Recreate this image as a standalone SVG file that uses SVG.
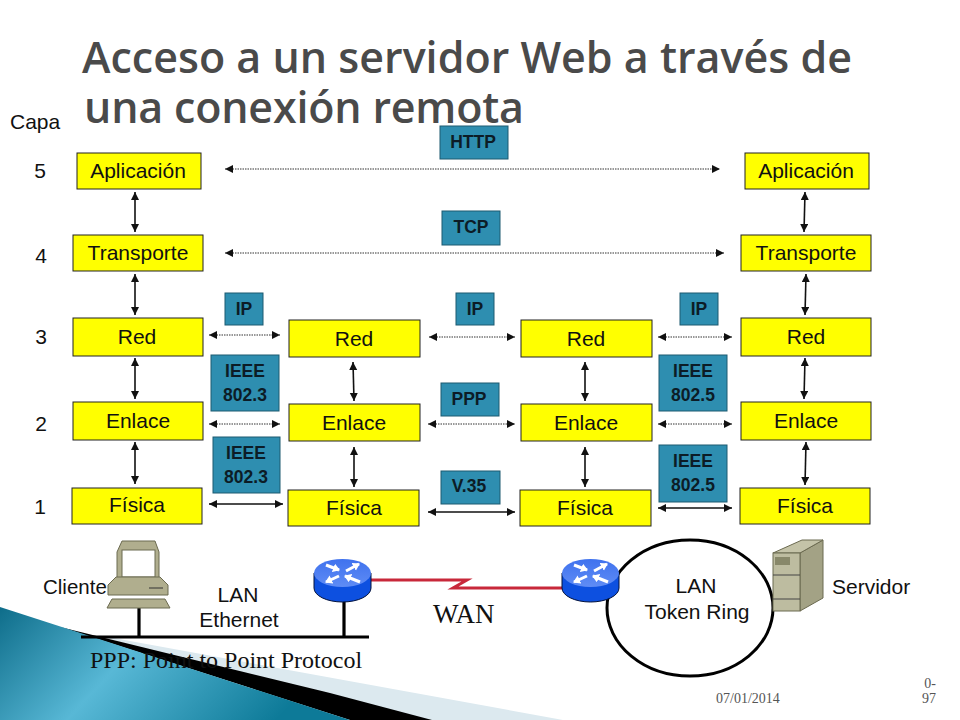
<svg xmlns="http://www.w3.org/2000/svg" width="960" height="720" viewBox="0 0 960 720">
<style>
text{font-family:"Liberation Sans",Arial,sans-serif;fill:#111}
.y{fill:#ffff00;stroke:#222;stroke-width:1}
.b{fill:#2e8eb0;stroke:#1c5a70;stroke-width:1}
.yt{font-size:21px;text-anchor:middle}
.bt{font-size:17.500px;font-weight:bold;text-anchor:middle;fill:#0c1c26}
.n{font-size:21px;text-anchor:middle}
.s{stroke:#111;stroke-width:1.600;fill:none;marker-start:url(#a);marker-end:url(#a)}
.d{stroke:#333;stroke-width:1;stroke-dasharray:1.500 1;fill:none;marker-start:url(#a);marker-end:url(#a)}
.t{font-family:"Open Sans","DejaVu Sans",sans-serif;font-size:43px;fill:#4a4a4a;font-weight:600}
.ser{font-family:"Liberation Serif",serif}
.bk{stroke:#000;stroke-width:3;fill:none}
.foot{font-size:14px;fill:#555}
</style>
<defs>
<marker id="a" orient="auto-start-reverse" markerUnits="userSpaceOnUse" markerWidth="9" markerHeight="9" refX="8" refY="4"><path d="M0 0L8 4L0 8Z" fill="#111"/></marker>
<marker id="w" orient="auto" markerUnits="userSpaceOnUse" markerWidth="10" markerHeight="10" refX="6" refY="4.500"><path d="M0 0L7 4.500L0 9Z" fill="#fff"/></marker>
<linearGradient id="teal" x1="0" y1="0" x2="1" y2="0.300"><stop offset="0" stop-color="#0e6d8a"/><stop offset=".45" stop-color="#58b8d6"/><stop offset="1" stop-color="#0d7a98"/></linearGradient>
<linearGradient id="rt" x1="0" y1="0" x2="0" y2="1"><stop offset="0" stop-color="#3f72ee"/><stop offset="1" stop-color="#5f8cf5"/></linearGradient>
<g id="router-shape">
<path d="M0 14V29A28.500 14 0 0 0 57 29V14Z" fill="#0d50e0" stroke="#04123a" stroke-width="1"/>
<ellipse cx="28.500" cy="14" rx="28.500" ry="14" fill="url(#rt)"/>
<g stroke="#fff" stroke-width="3" fill="none">
<path d="M12 6L25 11" marker-end="url(#w)"/>
<path d="M32 12L45 5" marker-end="url(#w)"/>
<path d="M25 17L12 23" marker-end="url(#w)"/>
<path d="M46 23L31 17" marker-end="url(#w)"/>
</g>
</g>
</defs>

<g id="decor">
<polygon points="97,635 563,720 380,720" fill="#dce9ef"/>
<polygon points="60,627 330,693 432,720 350,720" fill="#000"/>
<polygon points="0,607 350,720 0,720" fill="url(#teal)"/>
</g>

<g id="title"><text class="t" x="82" y="73" textLength="770">Acceso a un servidor Web a través de</text><text class="t" x="84" y="123" textLength="440">una conexión remota</text></g>
<g id="layer-labels">
<text x="10" y="129" font-size="21">Capa</text>
<text class="n" x="40" y="178">5</text><text class="n" x="41" y="263">4</text><text class="n" x="41" y="344">3</text><text class="n" x="41" y="431">2</text><text class="n" x="40" y="514">1</text>
</g>

<g id="connectors">
<path class="d" d="M225 169H720"/>
<path class="d" d="M225 253H724"/>
<path class="s" d="M135 192V232"/><path class="s" d="M135 274V315"/><path class="s" d="M135 358V399"/><path class="s" d="M135 442V484"/>
<path class="s" d="M805 192L804 232"/><path class="s" d="M806 274L805 315"/><path class="s" d="M805 358L804 399"/><path class="s" d="M806 442L805 485"/>
<path class="s" d="M353 362L354 401"/><path class="s" d="M354 447V487"/>
<path class="s" d="M585 362V401"/><path class="s" d="M585 447V487"/>
<path class="d" d="M209 335H280"/><path class="d" d="M209 424H280"/><path class="s" d="M209 504H283"/>
<path class="d" d="M429 337H515"/><path class="d" d="M428 424H515"/><path class="s" d="M428 512H515"/>
<path class="d" d="M658 337H732"/><path class="d" d="M658 424H732"/><path class="s" d="M658 508H732"/>
<path stroke="#000" stroke-width="3.200" fill="none" d="M81 637H369M139 605V637M344 600V637"/>
<path stroke="#c8283a" stroke-width="3" fill="none" d="M371 580H467L453 588H564"/>
</g>

<g id="n-app-l"><rect class="y" x="77" y="153" width="124" height="36"/><text class="yt" x="138" y="178">Aplicación</text></g>
<g id="n-tra-l"><rect class="y" x="73" y="235" width="130" height="36"/><text class="yt" x="138" y="260">Transporte</text></g>
<g id="n-red-l"><rect class="y" x="73" y="318" width="130" height="38"/><text class="yt" x="137" y="344">Red</text></g>
<g id="n-enl-l"><rect class="y" x="73" y="402" width="130" height="38"/><text class="yt" x="138" y="428">Enlace</text></g>
<g id="n-fis-l"><rect class="y" x="72" y="488" width="130" height="36"/><text class="yt" x="137" y="512">Física</text></g>

<g id="n-red-2"><rect class="y" x="289" y="320" width="131" height="37"/><text class="yt" x="354" y="346">Red</text></g>
<g id="n-enl-2"><rect class="y" x="289" y="404" width="131" height="37"/><text class="yt" x="354" y="430">Enlace</text></g>
<g id="n-fis-2"><rect class="y" x="288" y="490" width="131" height="36"/><text class="yt" x="354" y="515">Física</text></g>

<g id="n-red-3"><rect class="y" x="521" y="320" width="131" height="37"/><text class="yt" x="586" y="346">Red</text></g>
<g id="n-enl-3"><rect class="y" x="521" y="404" width="131" height="37"/><text class="yt" x="586" y="430">Enlace</text></g>
<g id="n-fis-3"><rect class="y" x="520" y="490" width="131" height="36"/><text class="yt" x="585" y="515">Física</text></g>

<g id="n-app-r"><rect class="y" x="745" y="153" width="124" height="36"/><text class="yt" x="806" y="178">Aplicación</text></g>
<g id="n-tra-r"><rect class="y" x="741" y="235" width="130" height="36"/><text class="yt" x="806" y="260">Transporte</text></g>
<g id="n-red-r"><rect class="y" x="741" y="318" width="130" height="38"/><text class="yt" x="806" y="344">Red</text></g>
<g id="n-enl-r"><rect class="y" x="741" y="402" width="130" height="38"/><text class="yt" x="806" y="428">Enlace</text></g>
<g id="n-fis-r"><rect class="y" x="740" y="488" width="130" height="36"/><text class="yt" x="805" y="513">Física</text></g>

<g id="p-http"><rect class="b" x="440" y="126" width="68" height="33"/><text class="bt" x="473" y="148">HTTP</text></g>
<g id="p-tcp"><rect class="b" x="442" y="211" width="58" height="34"/><text class="bt" x="471" y="233">TCP</text></g>
<g id="p-ip1"><rect class="b" x="225" y="293" width="38" height="32"/><text class="bt" x="244" y="315">IP</text></g>
<g id="p-ip2"><rect class="b" x="456" y="293" width="38" height="32"/><text class="bt" x="475" y="315">IP</text></g>
<g id="p-ip3"><rect class="b" x="680" y="293" width="38" height="32"/><text class="bt" x="699" y="315">IP</text></g>
<g id="p-e1"><rect class="b" x="211" y="355" width="68" height="56"/><text class="bt" x="245" y="377">IEEE</text><text class="bt" x="245" y="401">802.3</text></g>
<g id="p-e2"><rect class="b" x="213" y="437" width="67" height="56"/><text class="bt" x="246" y="459">IEEE</text><text class="bt" x="246" y="483">802.3</text></g>
<g id="p-ppp"><rect class="b" x="441" y="383" width="58" height="33"/><text class="bt" x="469" y="405">PPP</text></g>
<g id="p-v35"><rect class="b" x="441" y="471" width="59" height="33"/><text class="bt" x="469" y="492">V.35</text></g>
<g id="p-e3"><rect class="b" x="659" y="355" width="68" height="56"/><text class="bt" x="693" y="377">IEEE</text><text class="bt" x="693" y="401">802.5</text></g>
<g id="p-e4"><rect class="b" x="659" y="445" width="68" height="57"/><text class="bt" x="693" y="467">IEEE</text><text class="bt" x="693" y="491">802.5</text></g>

<g id="ring"><ellipse cx="690" cy="608" rx="83" ry="68" class="bk"/></g>

<g id="client" stroke="#6b6a50" stroke-width="1">
<path d="M117 552L122 541H155L159 552V580H117Z" fill="#b0ae8e"/>
<rect x="122" y="550" width="33" height="27" fill="#fff"/>
<path d="M108 585L116 577H160L168 585V595H108Z" fill="#b0ae8e"/>
<path d="M149 588H163" stroke="#333"/>
<path d="M112 599H165L170 608H107Z" fill="#b0ae8e"/>
</g>
<g id="router-l"><use href="#router-shape" x="314" y="559"/></g>
<g id="router-r"><use href="#router-shape" x="562" y="559"/></g>
<g id="server" stroke="#6b6a50" stroke-width="1">
<path d="M800 553L823 540V598L800 611Z" fill="#a3a285"/>
<path d="M773 553L802 540H823L800 553Z" fill="#c4c3a8"/>
<rect x="773" y="553" width="27" height="58" fill="#bdbca0"/>
<path d="M773 575H800M773 599H800" stroke="#444"/>
<rect x="775" y="557" width="15" height="8" fill="#88886a" stroke="none"/>
</g>

<g id="net-labels">
<text x="43" y="594" font-size="20.500">Cliente</text>
<text class="n" x="238" y="602">LAN</text><text class="n" x="239" y="627">Ethernet</text>
<text class="n" x="696" y="593">LAN</text><text class="n" x="697" y="619">Token Ring</text>
<text x="832" y="594" font-size="21">Servidor</text>
<text class="ser" x="433" y="623" font-size="27">WAN</text>
<text class="ser" x="90" y="668" font-size="24">PPP: Point to Point Protocol</text>
<text class="ser foot" x="716" y="703">07/01/2014</text>
<text class="ser foot" x="936" y="688" text-anchor="end">0-</text>
<text class="ser foot" x="936" y="703" text-anchor="end">97</text>
</g>
</svg>
